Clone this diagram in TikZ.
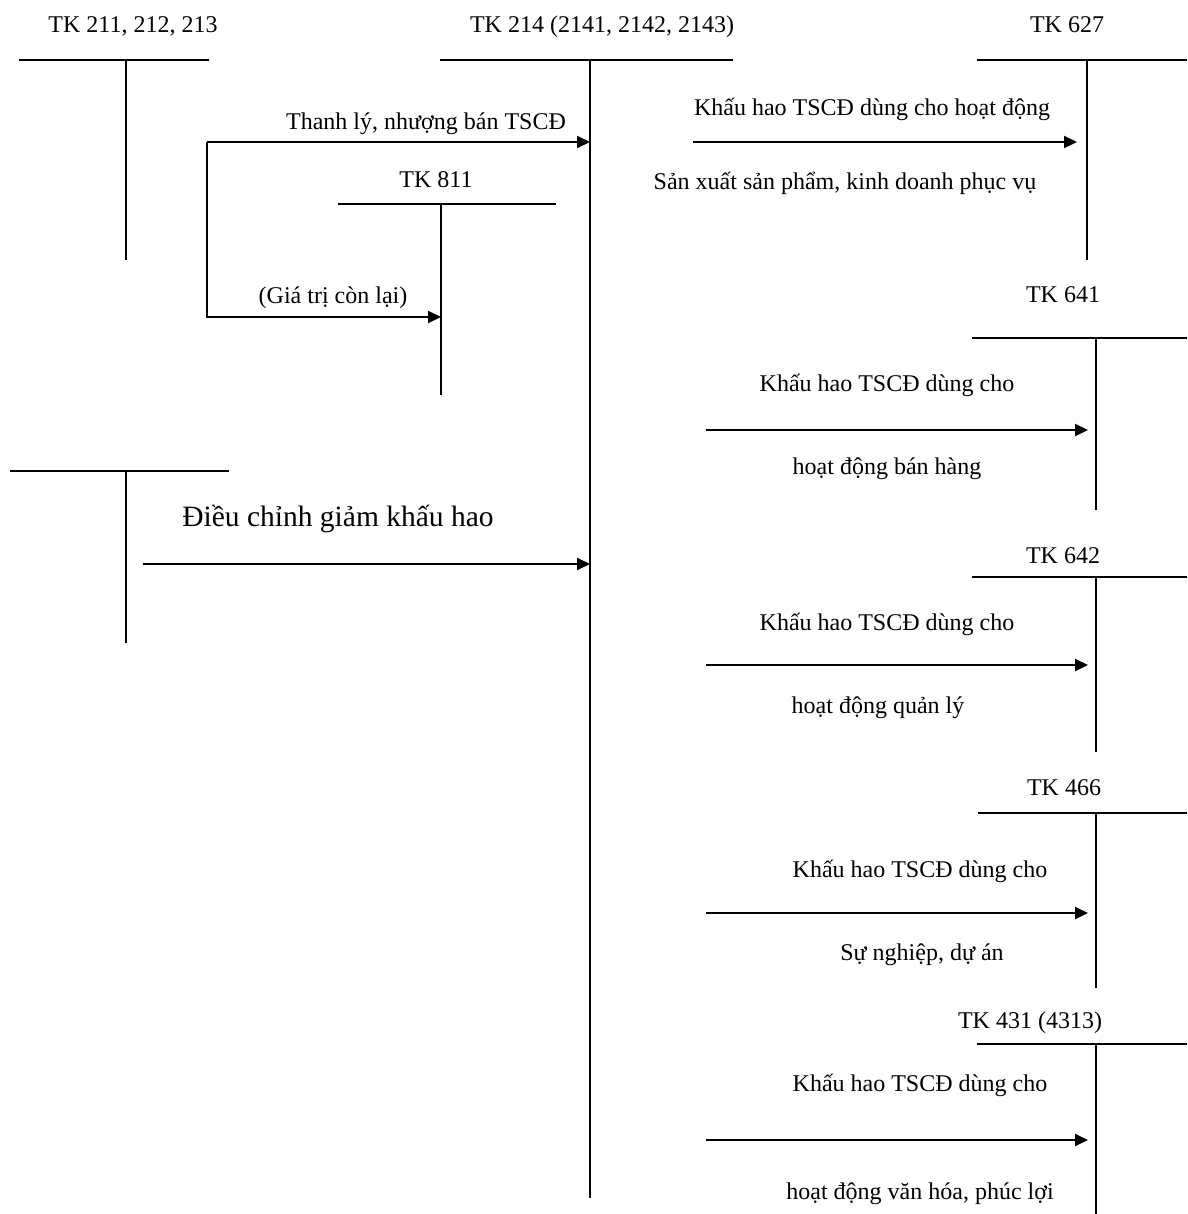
\documentclass[tikz,border=0pt]{standalone}
\usepackage{fontspec}
\setmainfont{Liberation Serif}
\usetikzlibrary{arrows.meta}
\begin{document}
\begin{tikzpicture}[x=1pt,y=-1pt,
  acct/.style={line width=2pt},
  flow/.style={line width=2pt,-{Triangle[length=13pt,width=12pt]}},
  title/.style={anchor=base,inner sep=0pt,font=\fontsize{24}{28}\selectfont},
  lbl/.style={anchor=base,inner sep=0pt,font=\fontsize{24}{28}\selectfont},
  biglbl/.style={anchor=base,inner sep=0pt,font=\fontsize{29.5}{34}\selectfont}]
\useasboundingbox[fill=white] (0,0) rectangle (1187,1214);

% ---- T-accounts: title, crossbar, stem ----
% TK 211, 212, 213
\node[title] (t211) at (133,33) {TK 211, 212, 213};
\coordinate (b211l) at (19,60); \coordinate (b211r) at (209,60);
\coordinate (s211t) at (126,60); \coordinate (s211b) at (126,260);
\draw[acct] (b211l) -- (b211r) (s211t) -- (s211b);

% TK 214
\node[title] (t214) at (602,33) {TK 214 (2141, 2142, 2143)};
\coordinate (b214l) at (440,60); \coordinate (b214r) at (733,60);
\coordinate (s214t) at (590,60); \coordinate (s214b) at (590,1198);
\draw[acct] (b214l) -- (b214r) (s214t) -- (s214b);

% TK 627
\node[title] (t627) at (1067,33) {TK 627};
\coordinate (b627l) at (977,60); \coordinate (b627r) at (1187,60);
\coordinate (s627t) at (1087,60); \coordinate (s627b) at (1087,260);
\draw[acct] (b627l) -- (b627r) (s627t) -- (s627b);

% TK 811
\node[title] (t811) at (436,188) {TK 811};
\coordinate (b811l) at (338,204); \coordinate (b811r) at (556,204);
\coordinate (s811t) at (441,204); \coordinate (s811b) at (441,395);
\draw[acct] (b811l) -- (b811r) (s811t) -- (s811b);

% second debit account on the left
\coordinate (bLl) at (10,471); \coordinate (bLr) at (229,471);
\coordinate (sLt) at (126,471); \coordinate (sLb) at (126,643);
\draw[acct] (bLl) -- (bLr) (sLt) -- (sLb);

% TK 641
\node[title] (t641) at (1063,302) {TK 641};
\coordinate (b641l) at (972,338); \coordinate (b641r) at (1187,338);
\coordinate (s641t) at (1096,338); \coordinate (s641b) at (1096,510);
\draw[acct] (b641l) -- (b641r) (s641t) -- (s641b);

% TK 642
\node[title] (t642) at (1063,563) {TK 642};
\coordinate (b642l) at (972,577); \coordinate (b642r) at (1187,577);
\coordinate (s642t) at (1096,577); \coordinate (s642b) at (1096,752);
\draw[acct] (b642l) -- (b642r) (s642t) -- (s642b);

% TK 466
\node[title] (t466) at (1064,795) {TK 466};
\coordinate (b466l) at (978,813); \coordinate (b466r) at (1187,813);
\coordinate (s466t) at (1096,813); \coordinate (s466b) at (1096,988);
\draw[acct] (b466l) -- (b466r) (s466t) -- (s466b);

% TK 431 (4313)
\node[title] (t431) at (1030,1028) {TK 431 (4313)};
\coordinate (b431l) at (977,1044); \coordinate (b431r) at (1187,1044);
\coordinate (s431t) at (1096,1044); \coordinate (s431b) at (1096,1214);
\draw[acct] (b431l) -- (b431r) (s431t) -- (s431b);

% ---- flows ----
% disposal: to TK 214 and residual value to TK 811
\coordinate (dA) at (207,142); \coordinate (dB) at (207,317);
\coordinate (in214a) at (590,142); \coordinate (in811) at (441,317);
\draw[flow] (dA) -- (in214a);
\draw[flow] (dA) -- (dB) -- (in811);
\node[lbl] (lthanh) at (426,130) {Thanh lý, nhượng bán TSCĐ};
\node[lbl] (lgia) at (333,303) {(Giá trị còn lại)};

% depreciation adjustment
\coordinate (aS) at (143,564); \coordinate (in214b) at (590,564);
\draw[flow] (aS) -- (in214b);
\node[biglbl] (ldieu) at (338,526) {Điều chỉnh giảm khấu hao};

% depreciation charged to TK 627
\coordinate (f627) at (693,142); \coordinate (in627) at (1077,142);
\draw[flow] (f627) -- (in627);
\node[lbl] (l627a) at (872,116) {Khấu hao TSCĐ dùng cho hoạt động};
\node[lbl] (l627b) at (845,190) {Sản xuất sản phẩm, kinh doanh phục vụ};

% depreciation charged to TK 641
\coordinate (f641) at (706,430); \coordinate (in641) at (1088,430);
\draw[flow] (f641) -- (in641);
\node[lbl] (l641a) at (887,391) {Khấu hao TSCĐ dùng cho};
\node[lbl] (l641b) at (887,474) {hoạt động bán hàng};

% depreciation charged to TK 642
\coordinate (f642) at (706,665); \coordinate (in642) at (1088,665);
\draw[flow] (f642) -- (in642);
\node[lbl] (l642a) at (887,630) {Khấu hao TSCĐ dùng cho};
\node[lbl] (l642b) at (878,713) {hoạt động quản lý};

% depreciation charged to TK 466
\coordinate (f466) at (706,913); \coordinate (in466) at (1088,913);
\draw[flow] (f466) -- (in466);
\node[lbl] (l466a) at (920,877) {Khấu hao TSCĐ dùng cho};
\node[lbl] (l466b) at (922,960) {Sự nghiệp, dự án};

% depreciation charged to TK 431 (4313)
\coordinate (f431) at (706,1140); \coordinate (in431) at (1088,1140);
\draw[flow] (f431) -- (in431);
\node[lbl] (l431a) at (920,1091) {Khấu hao TSCĐ dùng cho};
\node[lbl] (l431b) at (920,1199) {hoạt động văn hóa, phúc lợi};
\end{tikzpicture}
\end{document}
